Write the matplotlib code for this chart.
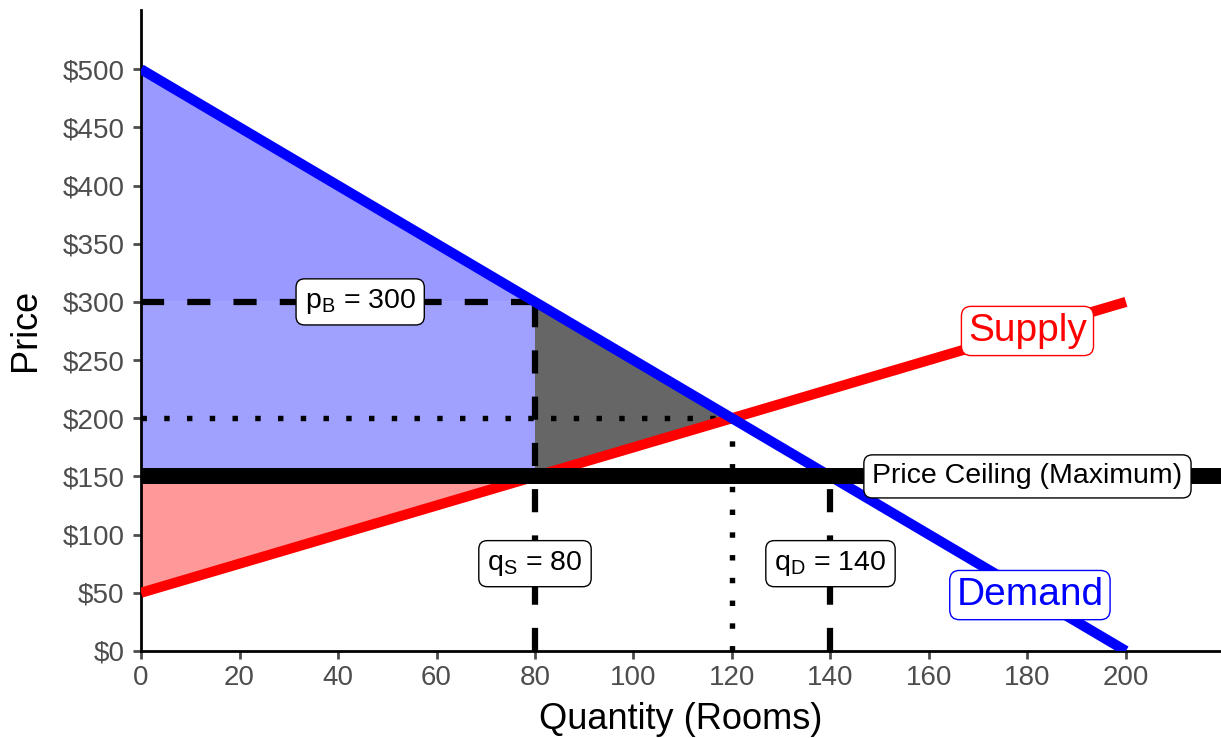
import matplotlib.pyplot as plt
import numpy as np

plt.rcParams['font.family'] = ['Liberation Sans', 'DejaVu Sans']

# demand and supply curves (Quantity, Price)
demand_q = [0, 200]
demand_p = [500, 0]
supply_q = [0, 200]
supply_p = [50, 300]

# key values
ceiling = 150
q_s = 80
q_d = 140
q_eq = 120
p_eq = 200
p_b = 300

# shaded areas
cs_top_q = [0, 80, 0]
cs_top_p = [500, 300, 300]
cs_rect_q = [0, 80, 80, 0]
cs_rect_p = [150, 150, 300, 300]
ps_q = [0, 80, 0]
ps_p = [50, 150, 150]
dwl_q = [80, 120, 80]
dwl_p = [300, 200, 150]

fig = plt.figure(figsize=(12.21, 7.38), dpi=100)
ax = fig.add_axes([0.1155, 0.118, 0.8845, 0.8686])

ax.fill(cs_top_q, cs_top_p, color='#9999ff', lw=0, zorder=1)
ax.fill(cs_rect_q, cs_rect_p, color='#a0a0ff', lw=0, zorder=1)
ax.fill(ps_q, ps_p, color='#ff9999', lw=0, zorder=1)
ax.fill(dwl_q, dwl_p, color='#666666', lw=0, zorder=1)

# guide lines
dash = dict(color='black', lw=4.5, dashes=(3.7, 3.7), zorder=2, dash_capstyle='butt')
dot = dict(color='black', lw=3.9, dashes=(1, 3.2), zorder=2, dash_capstyle='butt')
ax.plot([0, q_s], [p_b, p_b], **dash)
ax.plot([q_s, q_s], [0, p_b], **dash)
ax.plot([q_d, q_d], [0, ceiling], **dash)
ax.plot([0, q_eq], [p_eq, p_eq], **dot)
ax.plot([q_eq, q_eq], [0, p_eq], **dot)

ax.plot(supply_q, supply_p, color='red', lw=7.3, zorder=3, solid_capstyle='butt')
ax.plot(demand_q, demand_p, color='blue', lw=7.3, zorder=3, solid_capstyle='butt')
ax.axhline(ceiling, color='black', lw=11.5, zorder=4)

box = dict(boxstyle='round,pad=0.3,rounding_size=0.3', fc='white', ec='black', lw=1)
ax.text(44.5, p_b, r'p$_\mathregular{B}$ = 300', fontsize=20.5, ha='center', va='center', bbox=box, zorder=5)
ax.text(q_s, 75, r'q$_\mathregular{S}$ = 80', fontsize=20.5, ha='center', va='center', bbox=box, zorder=5)
ax.text(q_d, 75, r'q$_\mathregular{D}$ = 140', fontsize=20.5, ha='center', va='center', bbox=box, zorder=5)
ax.text(180, ceiling, 'Price Ceiling (Maximum)', fontsize=20.5, ha='center', va='center', bbox=box, zorder=5)
ax.text(180, 275, 'Supply', fontsize=28, color='red', ha='center', va='center',
        bbox=dict(boxstyle='round,pad=0.17,rounding_size=0.25', fc='white', ec='red', lw=1), zorder=5)
ax.text(180.5, 48, 'Demand', fontsize=28, color='blue', ha='center', va='center',
        bbox=dict(boxstyle='round,pad=0.17,rounding_size=0.25', fc='white', ec='blue', lw=1), zorder=5)

ax.set_xlim(0, 219.3)
ax.set_ylim(0, 551)
ax.set_xticks(np.arange(0, 201, 20))
ax.set_yticks(np.arange(0, 501, 50))
ax.set_yticklabels([f'${v}' for v in range(0, 501, 50)])
ax.tick_params(labelsize=20, colors='#4d4d4d', length=6, width=2)
ax.tick_params(axis='y', pad=6)
ax.tick_params(axis='x', pad=4)
ax.spines['top'].set_visible(False)
ax.spines['right'].set_visible(False)
ax.spines['left'].set_linewidth(2)
ax.spines['bottom'].set_linewidth(2)
ax.set_xlabel('Quantity (Rooms)', fontsize=26, labelpad=8)
ax.set_ylabel('Price', fontsize=26, labelpad=14)

fig.savefig('out.png', dpi=100)
